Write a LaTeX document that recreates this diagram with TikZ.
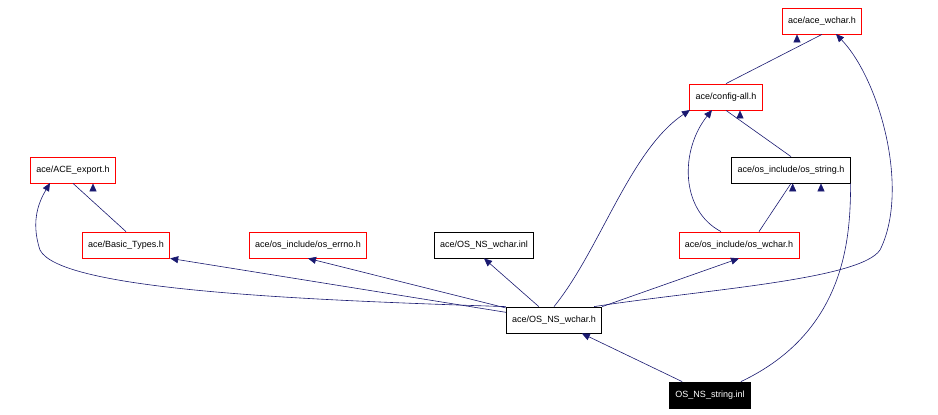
\documentclass[tikz,border=0pt]{standalone}
\usepackage{fontspec}
\setmainfont{Liberation Sans}
\usetikzlibrary{arrows.meta}
\begin{document}
\begin{tikzpicture}[x=1pt,y=-1pt,
 box/.style={draw=#1,fill=white,font=\fontsize{9}{10}\selectfont,minimum height=26pt,inner xsep=6pt,line width=0.8pt},
 box/.default=red,
 e/.style={draw={rgb,255:red,25;green,25;blue,112},line width=0.6pt,-{Triangle[length=8pt,width=7pt,fill={rgb,255:red,25;green,25;blue,112}]}}]
\useasboundingbox (0,0) rectangle (938,415);
\node[box] (aw) at (822,21) {ace/ace\_wchar.h};
\node[box] (ca) at (726,97) {ace/config-all.h};
\node[box=black] (os) at (791,170) {ace/os\_include/os\_string.h};
\node[box] (ae) at (73,170) {ace/ACE\_export.h};
\node[box] (bt) at (126,245) {ace/Basic\_Types.h};
\node[box] (er) at (308,245) {ace/os\_include/os\_errno.h};
\node[box=black] (wi) at (484,245) {ace/OS\_NS\_wchar.inl};
\node[box] (ow) at (739,245) {ace/os\_include/os\_wchar.h};
\node[box=black] (wh) at (554,320) {ace/OS\_NS\_wchar.h};
\node[box=black,fill=black,text=white] (si) at (710,395) {OS\_NS\_string.inl};
\draw[e] (si) -- (wh);
\draw[e] (si.north east) ++(-10,0) .. controls (850,330) and (850,230) .. (os.south east) ++(-58,0);
\draw[e] (wh.north west) .. controls (300,300) and (60,290) .. (40,250) .. controls (30,220) and (40,200) .. (50,183);
\draw[e] (wh) -- (bt.south east);
\draw[e] (wh) -- (er.south);
\draw[e] (wh) -- (wi.south);
\draw[e] (wh.north east) -- (ow.south);
\draw[e] (wh.north) .. controls (600,250) and (630,150) .. (690,110);
\draw[e] (wh.north east) ++(-8,0) .. controls (700,290) and (860,280) .. (880,250) .. controls (910,190) and (880,80) .. (836,34);
\draw[e] (bt.north) -- (ae.south) ++(20,0);
\draw[e] (ow.north) ++(20,0) -- (os.south) ++(30,0);
\draw[e] (ow.north) ++(-18,0) .. controls (680,210) and (680,150) .. (712,110);
\draw[e] (os.north) -- (ca.south) ++(14,0);
\draw[e] (ca.north) -- (aw.south) ++(-25,0);
\end{tikzpicture}
\end{document}
